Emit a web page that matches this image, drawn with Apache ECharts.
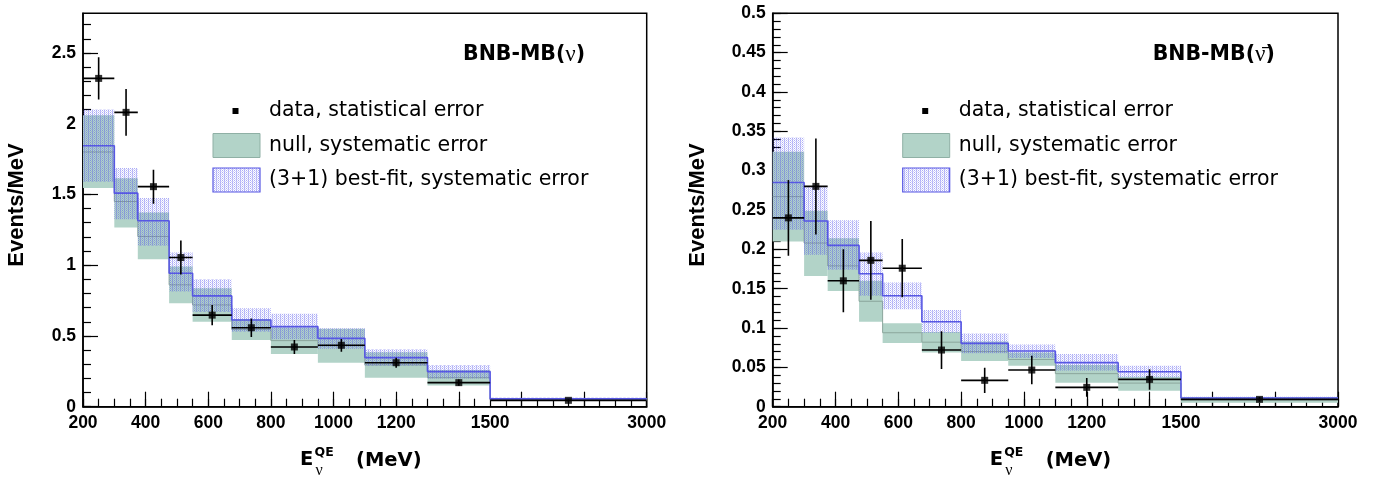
<!DOCTYPE html>
<html><head><meta charset="utf-8">
<script src="https://cdn.jsdelivr.net/npm/echarts@6/dist/echarts.min.js"></script>
<style>html,body{margin:0;padding:0;background:#fff}#c{width:1383px;height:478px}</style>
</head><body><div id="c"></div>
<script>
// ---------- data ----------
const binEdges = [200, 300, 375, 475, 550, 675, 800, 950, 1100, 1300, 1500, 3000];
const xTickLabels = [200, 400, 600, 800, 1000, 1200, 1500, 3000];
const yTicksNu = [0, 0.5, 1, 1.5, 2, 2.5];
const yTicksNubar = [0, 0.05, 0.1, 0.15, 0.2, 0.25, 0.3, 0.35, 0.4, 0.45, 0.5];

// left panel: BNB-MB(nu)
const nuData      = [2.32, 2.08, 1.555, 1.054, 0.647, 0.558, 0.422, 0.434, 0.311, 0.170, 0.045];
const nuDataErr   = [0.15, 0.165, 0.12, 0.12, 0.072, 0.066, 0.050, 0.045, 0.035, 0.022, 0.008];
const nuNull      = [1.80, 1.45, 1.203, 0.861, 0.719, 0.546, 0.467, 0.430, 0.295, 0.205, 0.050];
const nuNullLow   = [1.545, 1.267, 1.042, 0.731, 0.601, 0.472, 0.373, 0.311, 0.205, 0.149, 0.040];
const nuNullHigh  = [2.06, 1.615, 1.373, 0.99, 0.837, 0.62, 0.56, 0.55, 0.385, 0.26, 0.060];
const nuFit       = [1.844, 1.509, 1.314, 0.943, 0.783, 0.613, 0.566, 0.483, 0.347, 0.248, 0.055];
const nuFitLow    = [1.59, 1.325, 1.137, 0.814, 0.67, 0.53, 0.476, 0.41, 0.29, 0.20, 0.045];
const nuFitHigh   = [2.10, 1.686, 1.474, 1.09, 0.90, 0.696, 0.656, 0.555, 0.406, 0.295, 0.065];

// right panel: BNB-MB(nubar)
const nubarData     = [0.24, 0.28, 0.16, 0.186, 0.176, 0.072, 0.0335, 0.0466, 0.0246, 0.0347, 0.0093];
const nubarDataErr  = [0.048, 0.061, 0.04, 0.05, 0.037, 0.024, 0.016, 0.018, 0.012, 0.013, 0.003];
const nubarNull     = [0.267, 0.208, 0.179, 0.134, 0.094, 0.082, 0.070, 0.060, 0.042, 0.030, 0.0085];
const nubarNullLow  = [0.21, 0.166, 0.147, 0.108, 0.081, 0.069, 0.058, 0.052, 0.0305, 0.0203, 0.005];
const nubarNullHigh = [0.324, 0.249, 0.214, 0.16, 0.106, 0.095, 0.083, 0.069, 0.053, 0.038, 0.012];
const nubarFit      = [0.285, 0.236, 0.205, 0.169, 0.141, 0.108, 0.0805, 0.0708, 0.056, 0.0445, 0.011];
const nubarFitLow   = [0.225, 0.193, 0.174, 0.141, 0.124, 0.094, 0.068, 0.062, 0.046, 0.037, 0.009];
const nubarFitHigh  = [0.342, 0.28, 0.237, 0.196, 0.158, 0.123, 0.093, 0.079, 0.067, 0.052, 0.0127];

// ---------- axis transform (last bin compressed x3) ----------
function toDisplay(e) { return e <= 1500 ? e : 1500 + (e - 1500) / 3; }
function fromDisplay(d) { return d <= 1500 ? d : 1500 + (d - 1500) * 3; }

// ---------- styles ----------
const GREEN = '#b2d3c8';
const GREEN_LINE = '#8ba69c';
const BLUE = '#5757e3';
const TICKFONT = 'Liberation Sans';
const TXTFONT = 'DejaVu Sans';

function makePattern() {
  const c = document.createElement('canvas');
  c.width = 4; c.height = 2;
  const g = c.getContext('2d');
  g.fillStyle = 'rgba(70,70,235,0.45)';
  g.fillRect(0, 0, 1, 1);
  g.fillRect(2, 0, 1, 1);
  g.fillStyle = 'rgba(70,70,235,0.30)';
  g.fillRect(0, 1, 1, 1);
  g.fillStyle = 'rgba(70,70,235,0.22)';
  g.fillRect(1, 1, 1, 1);
  g.fillRect(3, 1, 1, 1);
  return c;
}
const patternCanvas = makePattern();
const hatchFill = { image: patternCanvas, repeat: 'repeat' };

const grids = [
  { left: 83, top: 13.3, width: 563.7, height: 393.4 },
  { left: 772.7, top: 13.3, width: 565.3, height: 393.4 }
];

function range(a, b, step, dec) {
  const out = [];
  const n = Math.round((b - a) / step);
  for (let i = 0; i <= n; i++) out.push(+(a + i * step).toFixed(dec));
  return out;
}

const xMajor = range(200, 2000, 200, 0);
const xMinor = range(200, 2000, 50, 0);

function xAxes(gi) {
  return [
    {
      type: 'value', gridIndex: gi, position: 'bottom', min: 200, max: 2000,
      axisLine: { show: true, onZero: false, lineStyle: { color: '#000', width: 1.5 } },
      axisTick: { show: true, inside: true, length: 15, customValues: xMajor, lineStyle: { color: '#000', width: 1.2 } },
      axisLabel: {
        show: true, customValues: xTickLabels.map(toDisplay), margin: 7,
        formatter: v => String(Math.round(fromDisplay(v))),
        fontFamily: TICKFONT, fontWeight: 'bold', fontSize: 17.5, color: '#000'
      },
      splitLine: { show: false }
    },
    {
      type: 'value', gridIndex: gi, position: 'bottom', min: 200, max: 2000,
      axisLine: { show: false },
      axisTick: { show: true, inside: true, length: 8, customValues: xMinor, lineStyle: { color: '#000', width: 1.2 } },
      axisLabel: { show: false },
      splitLine: { show: false }
    }
  ];
}

function yAxes(gi, max, major, minor) {
  return [
    {
      type: 'value', gridIndex: gi, position: 'left', min: 0, max: max,
      axisLine: { show: true, onZero: false, lineStyle: { color: '#000', width: 1.5 } },
      axisTick: { show: true, inside: true, length: 15, customValues: major, lineStyle: { color: '#000', width: 1.2 } },
      axisLabel: {
        show: true, customValues: major, margin: 7,
        fontFamily: TICKFONT, fontWeight: 'bold', fontSize: 17.5, color: '#000'
      },
      splitLine: { show: false }
    },
    {
      type: 'value', gridIndex: gi, position: 'left', min: 0, max: max,
      axisLine: { show: false },
      axisTick: { show: true, inside: true, length: 8, customValues: minor, lineStyle: { color: '#000', width: 1.2 } },
      axisLabel: { show: false },
      splitLine: { show: false }
    }
  ];
}

function bandData(low, high) {
  return low.map((l, i) => [toDisplay(binEdges[i]), toDisplay(binEdges[i + 1]), l, high[i]]);
}
function stepData(vals) {
  const out = [];
  vals.forEach((v, i) => {
    out.push([toDisplay(binEdges[i]), v]);
    out.push([toDisplay(binEdges[i + 1]), v]);
  });
  return out;
}
function errData(vals, errs) {
  return vals.map((v, i) => {
    const lo = binEdges[i], hi = binEdges[i + 1];
    return [toDisplay(lo), toDisplay(hi), toDisplay((lo + hi) / 2), v, errs[i]];
  });
}
function pointData(vals) {
  return vals.map((v, i) => [toDisplay((binEdges[i] + binEdges[i + 1]) / 2), v]);
}

function bandSeries(gi, low, high, fill, z) {
  return {
    type: 'custom', xAxisIndex: gi * 2, yAxisIndex: gi * 2, z: z, clip: true,
    data: bandData(low, high),
    encode: { x: [0, 1], y: [2, 3] },
    renderItem: function (params, api) {
      const p1 = api.coord([api.value(0), api.value(3)]);
      const p2 = api.coord([api.value(1), api.value(2)]);
      return {
        type: 'rect',
        shape: { x: p1[0], y: p1[1], width: p2[0] - p1[0], height: p2[1] - p1[1] },
        style: { fill: fill }
      };
    }
  };
}
function lineSeries(gi, vals, color, width, z) {
  return {
    type: 'line', xAxisIndex: gi * 2, yAxisIndex: gi * 2, z: z,
    data: stepData(vals), symbol: 'none', clip: true,
    lineStyle: { color: color, width: width }
  };
}
function errSeries(gi, vals, errs) {
  return {
    type: 'custom', xAxisIndex: gi * 2, yAxisIndex: gi * 2, z: 10, clip: true,
    data: errData(vals, errs),
    encode: { x: [0, 1], y: [3] },
    renderItem: function (params, api) {
      const y = api.value(3), e = api.value(4);
      const a = api.coord([api.value(0), y]);
      const b = api.coord([api.value(1), y]);
      const t = api.coord([api.value(2), y + e]);
      const d = api.coord([api.value(2), y - e]);
      const st = { stroke: '#000', lineWidth: 1.6 };
      return {
        type: 'group', children: [
          { type: 'line', shape: { x1: a[0], y1: a[1], x2: b[0], y2: b[1] }, style: st },
          { type: 'line', shape: { x1: t[0], y1: t[1], x2: d[0], y2: d[1] }, style: st }
        ]
      };
    }
  };
}
function pointSeries(gi, vals) {
  return {
    type: 'scatter', xAxisIndex: gi * 2, yAxisIndex: gi * 2, z: 11,
    data: pointData(vals), symbol: 'rect', symbolSize: 7,
    itemStyle: { color: '#000' }
  };
}

function panelSeries(gi, d) {
  return [
    bandSeries(gi, d.nullLow, d.nullHigh, GREEN, 2),
    lineSeries(gi, d.nullC, GREEN_LINE, 1, 3),
    bandSeries(gi, d.fitLow, d.fitHigh, hatchFill, 4),
    lineSeries(gi, d.fitC, BLUE, 1.6, 5),
    errSeries(gi, d.data, d.err),
    pointSeries(gi, d.data)
  ];
}

function panelGraphics(gi, titleRich) {
  const L = grids[gi].left;
  const yTitleX = gi === 0 ? L - 66.3 : L - 74.4;
  const els = [];
  // title
  els.push({
    type: 'text', x: L + 380, y: 55,
    style: {
      text: titleRich, verticalAlign: 'middle', textVerticalAlign: 'middle', align: 'left', textAlign: 'left',
      rich: {
        b: { fontFamily: TXTFONT, fontWeight: 'bold', fontSize: 20.5, fill: '#000', color: '#000' },
        n: { fontFamily: 'Liberation Serif', fontSize: 23, fill: '#000', color: '#000' }
      }
    }
  });
  // legend
  els.push({ type: 'rect', shape: { x: L + 149.5, y: 108, width: 6, height: 6 }, style: { fill: '#000' } });
  els.push({ type: 'rect', shape: { x: L + 130, y: 133.5, width: 47, height: 24 }, style: { fill: GREEN, stroke: '#8fb0a5', lineWidth: 1 } });
  els.push({ type: 'rect', shape: { x: L + 130, y: 168, width: 47, height: 24 }, style: { fill: hatchFill, stroke: BLUE, lineWidth: 1.2 } });
  const legTxt = ['data, statistical error', 'null, systematic error', '(3+1) best-fit, systematic error'];
  const legY = [111, 145.5, 180];
  legTxt.forEach((t, i) => {
    els.push({
      type: 'text', x: L + 186, y: legY[i],
      style: { text: t, font: '20.5px "DejaVu Sans"', fill: '#000', verticalAlign: 'middle', textVerticalAlign: 'middle' }
    });
  });
  // y title
  els.push({
    type: 'text', x: yTitleX, y: 205, rotation: Math.PI / 2,
    style: { text: 'Events/MeV', font: 'bold 22px "Liberation Sans"', fill: '#000', align: 'center', textAlign: 'center', verticalAlign: 'middle', textVerticalAlign: 'middle' }
  });
  // x title
  els.push({ type: 'text', x: L + 217, y: 460, style: { text: 'E', font: 'bold 19.5px "DejaVu Sans"', fill: '#000', verticalAlign: 'middle', textVerticalAlign: 'middle' } });
  els.push({ type: 'text', x: L + 231.5, y: 453, style: { text: 'QE', font: 'bold 12.5px "DejaVu Sans"', fill: '#000', verticalAlign: 'middle', textVerticalAlign: 'middle' } });
  els.push({ type: 'text', x: L + 232.5, y: 470.5, style: { text: 'ν', font: '16px "Liberation Serif"', fill: '#000', verticalAlign: 'middle', textVerticalAlign: 'middle' } });
  els.push({ type: 'text', x: L + 273, y: 461, style: { text: '(MeV)', font: 'bold 19.5px "DejaVu Sans"', fill: '#000', verticalAlign: 'middle', textVerticalAlign: 'middle' } });
  return els;
}

const nuSet = { data: nuData, err: nuDataErr, nullC: nuNull, nullLow: nuNullLow, nullHigh: nuNullHigh, fitC: nuFit, fitLow: nuFitLow, fitHigh: nuFitHigh };
const nubarSet = { data: nubarData, err: nubarDataErr, nullC: nubarNull, nullLow: nubarNullLow, nullHigh: nubarNullHigh, fitC: nubarFit, fitLow: nubarFitLow, fitHigh: nubarFitHigh };

const option = {
  animation: false,
  backgroundColor: '#fff',
  grid: grids.map(g => Object.assign({ show: true, borderColor: '#000', borderWidth: 1.5, containLabel: false, outerBoundsMode: 'none' }, g)),
  xAxis: xAxes(0).concat(xAxes(1)),
  yAxis: yAxes(0, 2.78, yTicksNu, range(0, 2.7, 0.1, 1)).concat(yAxes(1, 0.5, yTicksNubar, range(0, 0.5, 0.01, 2))),
  series: panelSeries(0, nuSet).concat(panelSeries(1, nubarSet)),
  graphic: { elements: panelGraphics(0, '{b|BNB-MB(}{n|ν}{b|)}').concat(panelGraphics(1, '{b|BNB-MB(}{n|ν\u0304}{b|)}')) }
};

const chart = echarts.init(document.getElementById('c'));
chart.setOption(option);
</script>
</body></html>
